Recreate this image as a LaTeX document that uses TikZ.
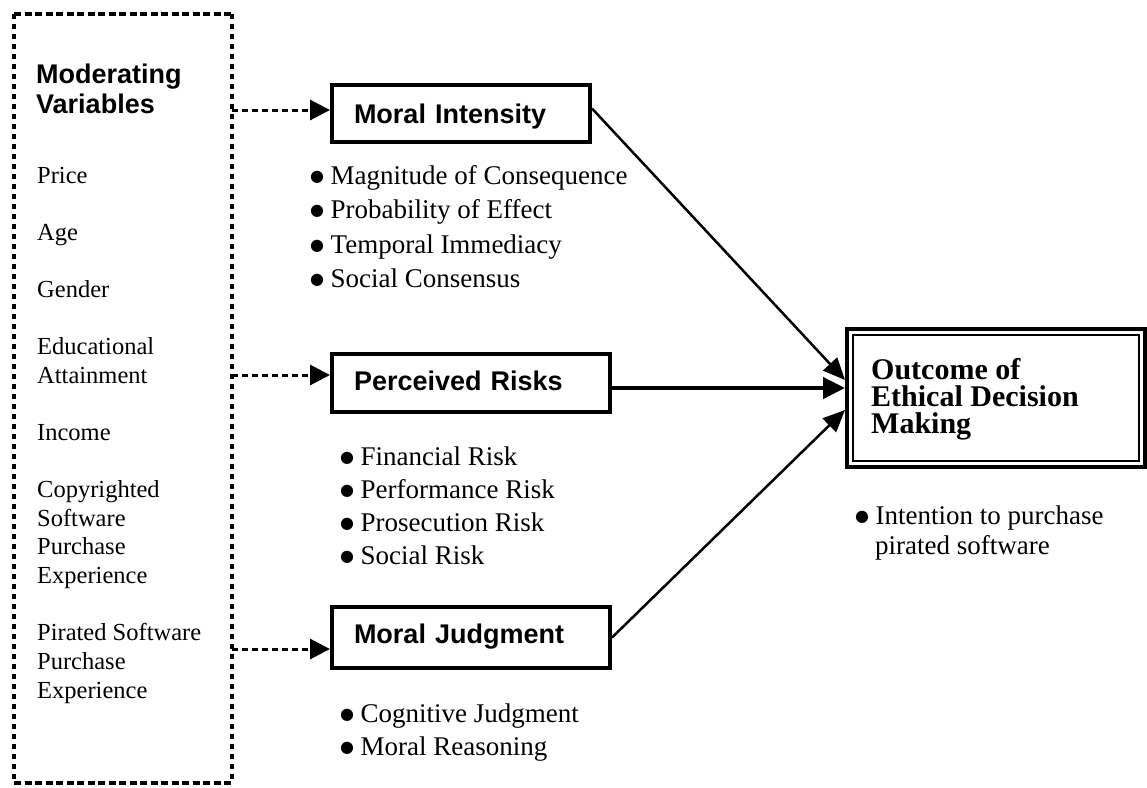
\documentclass[tikz,border=0pt]{standalone}
\usepackage{fontspec}
\setmainfont{Liberation Serif}
\newfontfamily\hsans{Liberation Sans}
\newfontfamily\dvs{DejaVu Sans}
\usetikzlibrary{arrows.meta,calc}
\newcommand\mybul{\raisebox{3pt}{\dvs\fontsize{16}{16}\selectfont ●}\hspace{6.5pt}}
\begin{document}
\begin{tikzpicture}[x=1pt,y=-1pt,
  lbl/.style={anchor=base west, inner sep=0pt, font=\fontsize{24.5}{28}\selectfont},
  bul/.style={anchor=base west, inner sep=0pt, font=\fontsize{27}{32}\selectfont},
  head/.style={anchor=base west, inner sep=0pt, font=\hsans\bfseries\fontsize{27}{30}\selectfont},
  ohead/.style={anchor=base west, inner sep=0pt, font=\bfseries\fontsize{30}{27}\selectfont},
  varbox/.style={draw=none, minimum width=218pt, minimum height=769pt, inner sep=0pt, outer sep=0pt},
  vdash/.style={line width=4pt, dash pattern=on 5pt off 5pt},
  hdash/.style={line width=4pt, dash pattern=on 7pt off 3.5pt},
  cbox/.style={draw, line width=4pt, inner xsep=22pt, inner ysep=0pt, align=left,
    text height=20pt, font=\hsans\bfseries\fontsize{27}{30}\selectfont},
  obox/.style={draw, line width=4pt, minimum width=298pt, minimum height=138pt, inner sep=0pt, outer sep=0pt},
  darrow/.style={line width=3pt, dash pattern=on 6pt off 4pt, -{Triangle[length=20pt,width=20pt]}},
  sarrow/.style={line width=2.5pt, -{Triangle[length=22pt,width=19pt]}},
  harrow/.style={line width=4.5pt, -{Triangle[length=22pt,width=21pt]}}
]
\useasboundingbox (0,0) rectangle (1147,787);

% moderating variables box
\node[varbox] (mv) at (123,398.5) {};
\draw[vdash] (mv.north west) -- (mv.south west);
\draw[vdash] (mv.north east) -- (mv.south east);
\draw[hdash] (mv.north west) -- (mv.north east);
\draw[hdash] (mv.south west) -- (mv.south east);

\node[head] (h1) at (36,83) {Moderating};
\node[head] (h2) at (36,113) {Variables};
\node[lbl] (v1) at (37,183) {Price};
\node[lbl] (v2) at (37,240) {Age};
\node[lbl] (v3) at (37,297) {Gender};
\node[lbl] (v4) at (37,354) {Educational};
\node[lbl] (v5) at (37,383) {Attainment};
\node[lbl] (v6) at (37,440) {Income};
\node[lbl] (v7) at (37,497) {Copyrighted};
\node[lbl] (v8) at (37,526) {Software};
\node[lbl] (v9) at (37,554) {Purchase};
\node[lbl] (v10) at (37,583) {Experience};
\node[lbl] (v11) at (37,640) {Pirated Software};
\node[lbl] (v12) at (37,669) {Purchase};
\node[lbl] (v13) at (37,698) {Experience};

% central boxes
\node[cbox, text width=214pt, minimum height=57pt, text depth=0pt] (mi) at (461,113.5) {Moral Intensity};
\node[cbox, text width=234pt, minimum height=58pt, text depth=6pt] (pr) at (471,383) {Perceived Risks};
\node[cbox, text width=234pt, minimum height=61pt, text depth=9pt] (mj) at (471,637.5) {Moral Judgment};

\node[bul] (m1) at (310,184) {\mybul Magnitude of Consequence};
\node[bul] (m2) at (310,218.5) {\mybul Probability of Effect};
\node[bul] (m3) at (310,253) {\mybul Temporal Immediacy};
\node[bul] (m4) at (310,287.5) {\mybul Social Consensus};

\node[bul] (p1) at (340,465) {\mybul Financial Risk};
\node[bul] (p2) at (340,498) {\mybul Performance Risk};
\node[bul] (p3) at (340,531) {\mybul Prosecution Risk};
\node[bul] (p4) at (340,564) {\mybul Social Risk};

\node[bul] (j1) at (340,722) {\mybul Cognitive Judgment};
\node[bul] (j2) at (340,755) {\mybul Moral Reasoning};

% outcome box
\node[obox] (oc) at (996,398) {};
\draw[line width=1.5pt] ([shift={(6,6)}]oc.north west) rectangle ([shift={(-6,-6)}]oc.south east);
\node[ohead] (o1) at (871,379) {Outcome of};
\node[ohead] (o2) at (871,406) {Ethical Decision};
\node[ohead] (o3) at (871,433) {Making};
\node[bul] (o4) at (855,524) {\mybul Intention to purchase};
\node[bul] (o5) at (875,554) {pirated software};

% dotted arrows
\coordinate (d1) at (232,110);
\coordinate (d2) at (232,375);
\coordinate (d3) at (232,649);
\draw[darrow] (d1) -- (d1 -| mi.west);
\draw[darrow] (d2) -- (d2 -| pr.west);
\draw[darrow] (d3) -- (d3 -| mj.west);

% solid arrows
\coordinate (t1) at ([shift={(-2,-18)}]oc.west);
\coordinate (t2) at ([shift={(-2,-10)}]oc.west);
\coordinate (t3) at ([shift={(-2,12)}]oc.west);
\draw[sarrow] ([yshift=5pt]mi.east) -- (t1);
\draw[harrow] (t2 -| pr.east) -- (t2);
\draw[sarrow] (mj.east) -- (t3);
\end{tikzpicture}
\end{document}
